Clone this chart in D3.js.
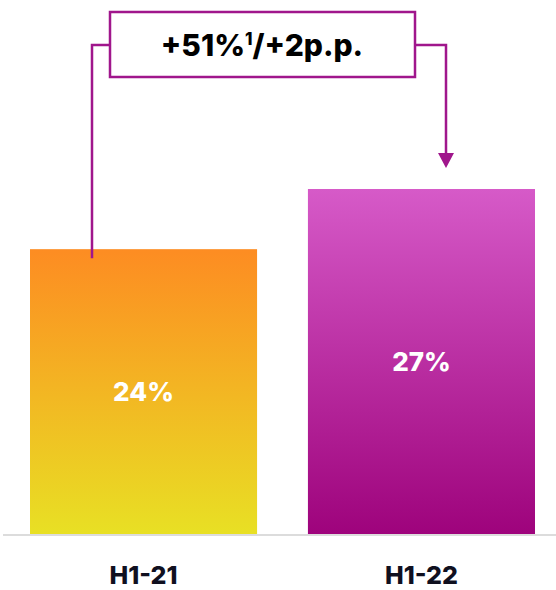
<!DOCTYPE html>
<html>
<head>
<meta charset="utf-8"/>
<script src="https://cdn.jsdelivr.net/npm/d3@7/dist/d3.min.js"></script>
<style>
  html, body { margin:0; padding:0; background:#fff; overflow:hidden; }
  svg { display:block; font-family: Inter, "Noto Sans", sans-serif; }
</style>
</head>
<body>
<svg width="556" height="590"></svg>
<script>
// data
const categories = ["H1-21", "H1-22"];
const values     = [24, 27];
const gradTop    = ["#fd8c22", "#d65ac8"];
const gradBottom = ["#e8e024", "#9e037c"];
const changeMain = "+51%";
const changeSup  = "1";
const changeRest = "/+2p.p.";

const svg = d3.select("svg");
const baseY = 534;

const x = d3.scaleBand().domain(categories).range([30, 535]).paddingInner(0.183).paddingOuter(0);
// axis doesn't start at zero in the original
const y = d3.scaleLinear().domain([9.8, 27]).range([baseY, 189]);

const defs = svg.append("defs");
categories.forEach((c, i) => {
  const g = defs.append("linearGradient").attr("id", "g" + i)
    .attr("x1", 0).attr("y1", 0).attr("x2", 0).attr("y2", 1);
  g.append("stop").attr("offset", "0%").attr("stop-color", gradTop[i]);
  g.append("stop").attr("offset", "100%").attr("stop-color", gradBottom[i]);
});

// bars
svg.selectAll("rect.bar").data(values).join("rect")
  .attr("class", "bar")
  .attr("x", (d, i) => x(categories[i]))
  .attr("y", d => y(d))
  .attr("width", x.bandwidth())
  .attr("height", d => baseY - y(d))
  .attr("fill", (d, i) => `url(#g${i})`);

// value labels
svg.selectAll("text.val").data(values).join("text")
  .attr("class", "val")
  .attr("x", (d, i) => x(categories[i]) + x.bandwidth() / 2)
  .attr("y", d => (y(d) + baseY) / 2)
  .attr("dy", "0.36em")
  .attr("text-anchor", "middle")
  .attr("fill", "#fff")
  .attr("font-size", 26)
  .attr("font-weight", 800)
  .text(d => d + "%");

// baseline
svg.append("line").attr("x1", 3).attr("x2", 556)
  .attr("y1", baseY + 1).attr("y2", baseY + 1)
  .attr("stroke", "#dcdcdc").attr("stroke-width", 2);

// category labels
svg.selectAll("text.cat").data(categories).join("text")
  .attr("class", "cat")
  .attr("x", d => x(d) + x.bandwidth() / 2)
  .attr("y", 584)
  .attr("text-anchor", "middle")
  .attr("fill", "#10101f")
  .attr("font-size", 25)
  .attr("font-weight", 800)
  .text(d => d);

// change annotation
const purple = "#a0168c";
const x0 = 92, x1 = 446, lineY = 45;
svg.append("path")
  .attr("d", `M${x0},${y(values[0]) + 9}V${lineY}H${x1}V${y(values[1]) - 34}`)
  .attr("fill", "none").attr("stroke", purple).attr("stroke-width", 2.5);
svg.append("path")
  .attr("d", `M${x1 - 8},${y(values[1]) - 36}L${x1 + 8},${y(values[1]) - 36}L${x1},${y(values[1]) - 21}Z`)
  .attr("fill", purple);

svg.append("rect").attr("x", 110).attr("y", 12).attr("width", 305).attr("height", 65)
  .attr("fill", "#fff").attr("stroke", purple).attr("stroke-width", 2.5);

const t = svg.append("text")
  .attr("x", 262).attr("y", 56)
  .attr("text-anchor", "middle")
  .attr("fill", "#000")
  .attr("font-size", 30)
  .attr("font-weight", 800);
t.append("tspan").text(changeMain);
t.append("tspan").attr("font-size", 17).attr("dy", -11).text(changeSup);
t.append("tspan").attr("dy", 11).text(changeRest);
</script>
</body>
</html>
